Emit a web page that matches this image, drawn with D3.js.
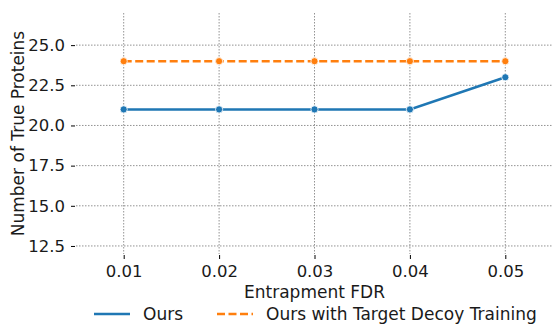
<!DOCTYPE html>
<html lang="en">
<head>
<meta charset="UTF-8">
<title>Entrapment FDR</title>
<script src="https://d3js.org/d3.v7.min.js"></script>
<style>
  body { margin: 0; background: white; }
  text { font-family: "DejaVu Sans", sans-serif; fill: #1a1a1a; }
</style>
</head>
<body>
<div id="chart"></div>
<script>
var fdrValues = [0.01, 0.02, 0.03, 0.04, 0.05];
var oursValues = [21, 21, 21, 21, 23];
var targetDecoyValues = [24, 24, 24, 24, 24];
var yTicks = [12.5, 15.0, 17.5, 20.0, 22.5, 25.0];
var seriesNames = ["Ours", "Ours with Target Decoy Training"];

var width = 553, height = 324;
var plotLeft = 76, plotRight = 553, plotTop = 13, plotBottom = 254;

var svg = d3.select("#chart").append("svg")
    .attr("width", width)
    .attr("height", height);

var x = d3.scaleLinear().domain([0.005, 0.055]).range([plotLeft, plotRight]);
var y = d3.scaleLinear().domain([12, 27]).range([plotBottom, plotTop]);

// grid
svg.append("g").selectAll("line").data(fdrValues).enter().append("line")
    .attr("x1", function(d) { return x(d); })
    .attr("x2", function(d) { return x(d); })
    .attr("y1", plotTop).attr("y2", plotBottom)
    .style("stroke", "#777").style("stroke-width", 0.8)
    .style("stroke-dasharray", "1.5,1.5");
svg.append("g").selectAll("line").data(yTicks).enter().append("line")
    .attr("x1", plotLeft).attr("x2", plotRight)
    .attr("y1", function(d) { return y(d); })
    .attr("y2", function(d) { return y(d); })
    .style("stroke", "#777").style("stroke-width", 0.8)
    .style("stroke-dasharray", "1.5,1.5");

// axes
var axisX = d3.axisBottom(x).tickValues(fdrValues).tickFormat(d3.format(".2f"))
    .tickSizeInner(4).tickSizeOuter(0).tickPadding(6);
var gx = svg.append("g").attr("transform", "translate(0," + (plotBottom + 1) + ")").call(axisX);
gx.select(".domain").remove();
gx.selectAll("text").style("font-size", "16.5px").style("font-family", "DejaVu Sans");

var axisY = d3.axisLeft(y).tickValues(yTicks).tickFormat(d3.format(".1f"))
    .tickSizeInner(4).tickSizeOuter(0).tickPadding(6);
var gy = svg.append("g").attr("transform", "translate(" + (plotLeft - 1) + ",0)").call(axisY);
gy.select(".domain").remove();
gy.selectAll("text").style("font-size", "16.5px").style("font-family", "DejaVu Sans");

svg.append("text")
    .attr("x", (plotLeft + plotRight) / 2).attr("y", 298)
    .attr("text-anchor", "middle")
    .style("font-size", "17px")
    .text("Entrapment FDR");

svg.append("text")
    .attr("transform", "translate(24," + ((plotTop + plotBottom) / 2) + ") rotate(-90)")
    .attr("text-anchor", "middle")
    .style("font-size", "17px")
    .text("Number of True Proteins");

// lines
var series = [
    { name: seriesNames[0], values: oursValues, color: "#1f77b4", dash: null },
    { name: seriesNames[1], values: targetDecoyValues, color: "#ff7f0e", dash: "8,3.5" }
];

var line = d3.line()
    .x(function(d, i) { return x(fdrValues[i]); })
    .y(function(d) { return y(d); });

series.forEach(function(s) {
    svg.append("path")
        .datum(s.values)
        .attr("d", line)
        .style("fill", "none")
        .style("stroke", s.color)
        .style("stroke-width", 2.5)
        .style("stroke-dasharray", s.dash);
    svg.append("g").selectAll("circle").data(s.values).enter().append("circle")
        .attr("cx", function(d, i) { return x(fdrValues[i]); })
        .attr("cy", function(d) { return y(d); })
        .attr("r", 3.6)
        .style("fill", s.color)
        .style("stroke", "white")
        .style("stroke-width", 0.8);
});

// legend
var legendX = [94, 217];
series.forEach(function(s, i) {
    svg.append("line")
        .attr("x1", legendX[i]).attr("x2", legendX[i] + 36)
        .attr("y1", 314).attr("y2", 314)
        .style("stroke", s.color).style("stroke-width", 2.5)
        .style("stroke-dasharray", s.dash);
    svg.append("text")
        .attr("x", legendX[i] + 49).attr("y", 320)
        .style("font-size", "17px")
        .text(s.name);
});
</script>
</body>
</html>
